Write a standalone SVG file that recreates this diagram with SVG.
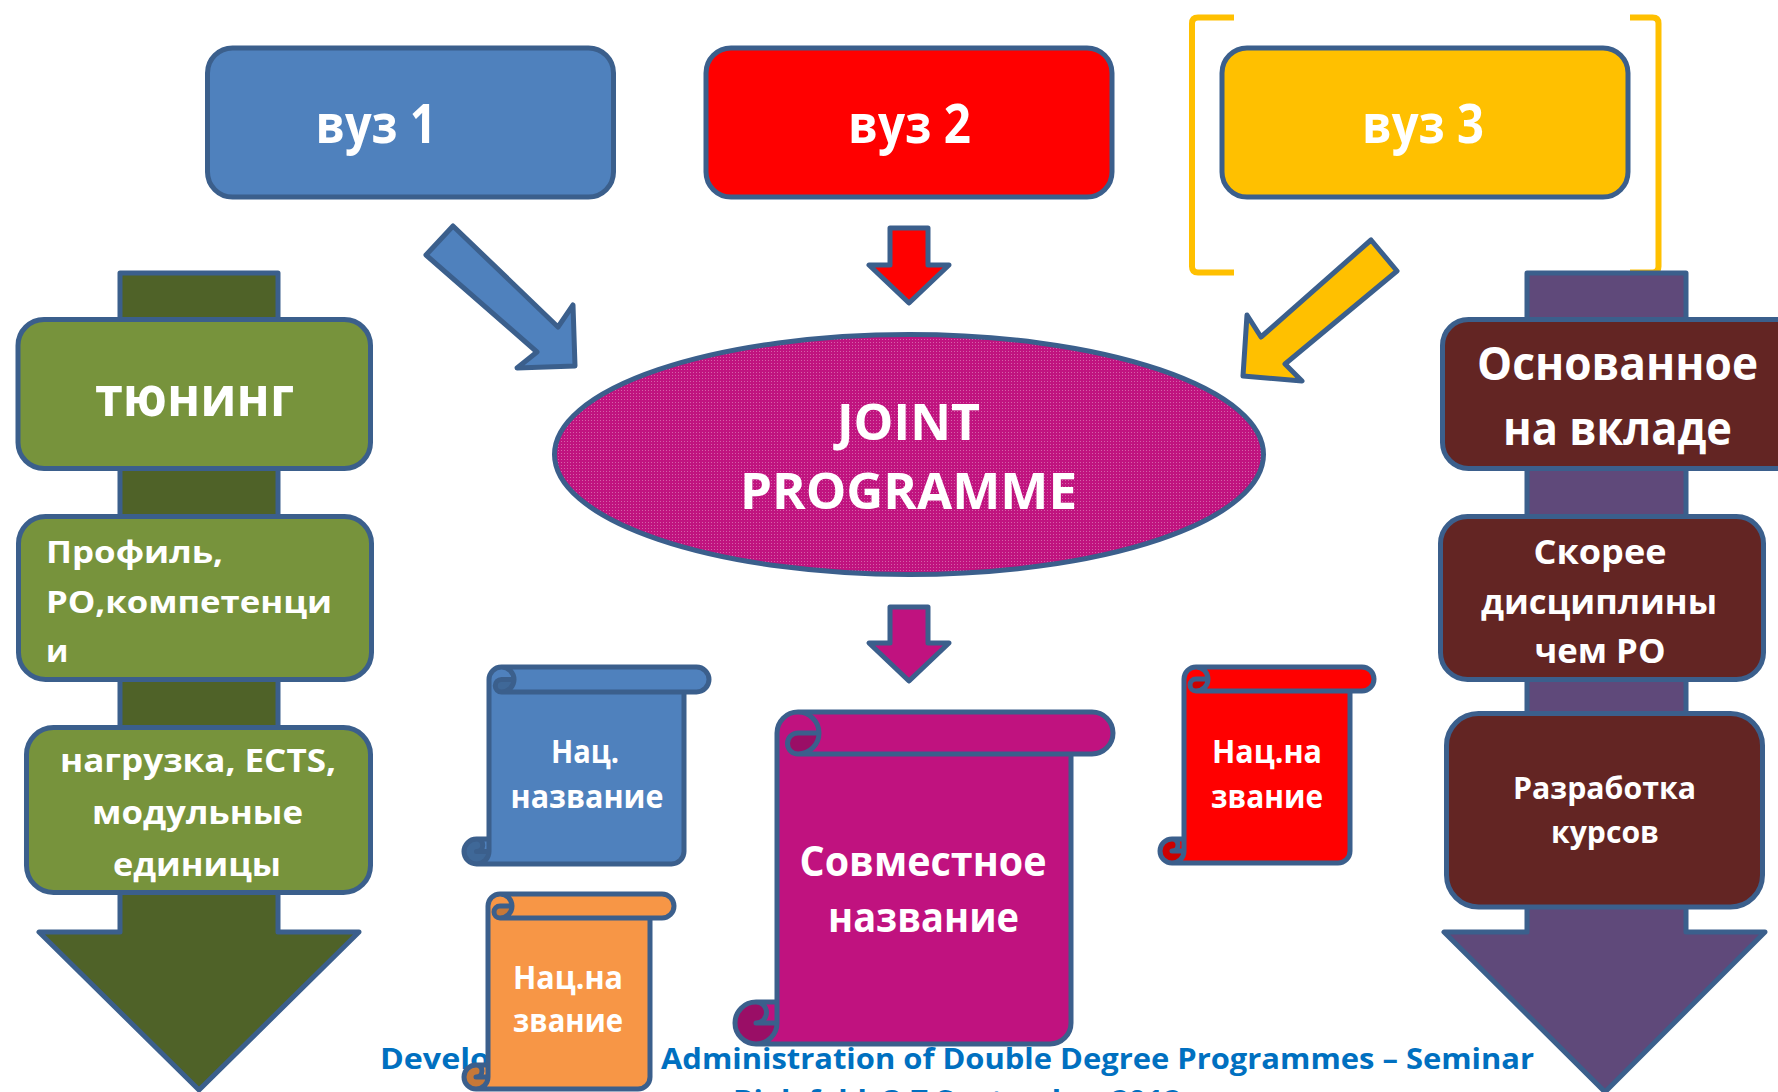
<svg xmlns="http://www.w3.org/2000/svg" width="1778" height="1092" viewBox="0 0 1778 1092">
<style>
.bx{stroke:#3B5F8C;stroke-width:5;stroke-linejoin:round}
.ln{fill:none;stroke:#3B5F8C;stroke-width:5;stroke-linejoin:round}
.t{font-family:"Open Sans","Noto Sans","DejaVu Sans",sans-serif;font-weight:700;fill:#FFFFFF}
.c{text-anchor:middle}
.ft{font-family:"Open Sans","Noto Sans","DejaVu Sans",sans-serif;font-weight:700;fill:#0070C0}
.br{fill:none;stroke:#FFC000;stroke-width:6}
</style>
<defs>
<pattern id="dots" width="3" height="3" patternUnits="userSpaceOnUse">
<rect width="3" height="3" fill="#C0137F"/>
<rect width="1" height="1" fill="#D561A8"/>
</pattern>
</defs>
<rect width="1778" height="1092" fill="#FFFFFF"/>

<!-- footer text (behind scrolls) -->
<g id="footer">
<text class="ft" x="380" y="1069" font-size="28" textLength="110" lengthAdjust="spacingAndGlyphs">Develo</text>
<text class="ft" x="661" y="1069" font-size="28" textLength="873" lengthAdjust="spacingAndGlyphs">Administration of Double Degree Programmes – Seminar</text>
<text class="ft c" x="957" y="1111" font-size="28" textLength="448" lengthAdjust="spacingAndGlyphs">Bielefeld, 3-7 September 2012</text>
</g>

<!-- bracket around vuz 3 -->
<g id="bracket">
<path class="br" d="M1234,17.5 L1198,17.5 Q1192,17.5 1192,23.5 L1192,266.5 Q1192,272.5 1198,272.5 L1234,272.5"/>
<path class="br" d="M1630,17.5 L1652.5,17.5 Q1658.5,17.5 1658.5,23.5 L1658.5,266.5 Q1658.5,272.5 1652.5,272.5 L1630,272.5"/>
</g>

<!-- left column -->
<g id="left-column">
<polygon class="bx" fill="#4F6228" points="120,273 278,273 278,932 359,932 199,1090 39,932 120,932"/>
<g id="tuning">
<rect class="bx" x="18" y="319.5" width="352.5" height="149" rx="26" fill="#77933C"/>
<text class="t c" x="194.5" y="416" font-size="56" textLength="199" lengthAdjust="spacingAndGlyphs">тюнинг</text>
</g>
<g id="profile">
<rect class="bx" x="18.5" y="516.5" width="353" height="163" rx="27" fill="#77933C"/>
<text class="t" x="46" y="563" font-size="31" textLength="177" lengthAdjust="spacingAndGlyphs">Профиль,</text>
<text class="t" x="46" y="613" font-size="31" textLength="286" lengthAdjust="spacingAndGlyphs">РО,компетенци</text>
<text class="t" x="46" y="662" font-size="31">и</text>
</g>
<g id="workload">
<rect class="bx" x="26.5" y="727.5" width="344" height="165" rx="27" fill="#77933C"/>
<text class="t c" x="198" y="772" font-size="33" textLength="276" lengthAdjust="spacingAndGlyphs">нагрузка, ECTS,</text>
<text class="t c" x="197.5" y="824" font-size="33" textLength="211" lengthAdjust="spacingAndGlyphs">модульные</text>
<text class="t c" x="197" y="876" font-size="33" textLength="168" lengthAdjust="spacingAndGlyphs">единицы</text>
</g>
</g>

<!-- right column -->
<g id="right-column">
<polygon class="bx" fill="#5F497A" points="1527,273 1686,273 1686,932 1765,932 1605,1092 1444,932 1527,932"/>
<g id="contribution">
<rect class="bx" x="1442.5" y="319.5" width="360" height="149" rx="26" fill="#632523"/>
<text class="t c" x="1617.5" y="380" font-size="46" textLength="281" lengthAdjust="spacingAndGlyphs">Основанное</text>
<text class="t c" x="1617.5" y="445" font-size="46" textLength="229" lengthAdjust="spacingAndGlyphs">на вкладе</text>
</g>
<g id="disciplines">
<rect class="bx" x="1440.5" y="516.5" width="323" height="163" rx="27" fill="#632523"/>
<text class="t c" x="1600" y="564" font-size="34.5" textLength="133" lengthAdjust="spacingAndGlyphs">Скорее</text>
<text class="t c" x="1599" y="614" font-size="34.5" textLength="236" lengthAdjust="spacingAndGlyphs">дисциплины</text>
<text class="t c" x="1600" y="663" font-size="34.5" textLength="131" lengthAdjust="spacingAndGlyphs">чем РО</text>
</g>
<g id="courses">
<rect class="bx" x="1446.5" y="713.5" width="316" height="193.5" rx="32" fill="#632523"/>
<text class="t c" x="1604.5" y="799" font-size="31" textLength="183" lengthAdjust="spacingAndGlyphs">Разработка</text>
<text class="t c" x="1605" y="843" font-size="31" textLength="108" lengthAdjust="spacingAndGlyphs">курсов</text>
</g>
</g>

<!-- universities -->
<g id="vuz1">
<rect class="bx" x="207.5" y="48" width="406" height="149" rx="25" fill="#4F81BD"/>
<text class="t c" x="376" y="143" font-size="53" textLength="121" lengthAdjust="spacingAndGlyphs">вуз 1</text>
</g>
<g id="vuz2">
<rect class="bx" x="706" y="48" width="406" height="149" rx="25" fill="#FF0000"/>
<text class="t c" x="909.5" y="143" font-size="53" textLength="123" lengthAdjust="spacingAndGlyphs">вуз 2</text>
</g>
<g id="vuz3">
<rect class="bx" x="1222" y="48" width="406" height="149" rx="25" fill="#FFC000"/>
<text class="t c" x="1423" y="143" font-size="53" textLength="122" lengthAdjust="spacingAndGlyphs">вуз 3</text>
</g>

<!-- joint programme -->
<g id="joint-programme">
<ellipse class="bx" cx="909" cy="454.5" rx="354.5" ry="120" fill="url(#dots)"/>
<text class="t c" x="908.5" y="440" font-size="50" textLength="143" lengthAdjust="spacingAndGlyphs">JOINT</text>
<text class="t c" x="908.5" y="509" font-size="50" textLength="337" lengthAdjust="spacingAndGlyphs">PROGRAMME</text>
</g>

<!-- connectors -->
<g id="connectors">
<polygon class="bx" fill="#4F81BD" points="453,226 558,327 573,305 575,366 517,368 537,352 426,255"/>
<polygon class="bx" fill="#FF0000" points="890,228 928,228 928,265 949,265 909,303 869,265 890,265"/>
<polygon class="bx" fill="#FFC000" points="1371,240 1397,271 1285,364 1302,381 1243,376 1247,315 1261,337"/>
<polygon class="bx" fill="#C0127F" points="890,607 928,607 928,643 949,643 909,681 869,643 890,643"/>
</g>

<!-- scrolls -->
<g id="scroll-blue">
<g transform="translate(464,667)">
<path fill="#4F81BD" d="M25,172 L25,12.5 A12.5,12.5 0 0 1 37.5,0 L232.5,0 A12.5,12.5 0 0 1 232.5,25 L220,25 L220,184.5 A12.5,12.5 0 0 1 207.5,197 L12.5,197 A12.5,12.5 0 0 1 12.5,172 Z"/>
<path fill="#3F6898" d="M50,12.5 A12.5,12.5 0 0 1 37.5,25 A6.25,6.25 0 0 1 37.5,12.5 Z M25,184.5 A12.5,12.5 0 1 1 12.5,172 A6.25,6.25 0 0 1 12.5,184.5 Z"/>
<path class="ln" d="M25,172 L25,12.5 A12.5,12.5 0 0 1 37.5,0 L232.5,0 A12.5,12.5 0 0 1 232.5,25 L220,25 L220,184.5 A12.5,12.5 0 0 1 207.5,197 L12.5,197 A12.5,12.5 0 0 1 12.5,172 Z M37.5,0 A12.5,12.5 0 0 1 37.5,25 A6.25,6.25 0 0 1 37.5,12.5 L50,12.5 M220,25 L37.5,25 M12.5,172 A6.25,6.25 0 0 1 12.5,184.5 L25,184.5 M12.5,197 A12.5,12.5 0 0 0 25,184.5 L25,172"/>
</g>
<text class="t c" x="585" y="763" font-size="33" textLength="68" lengthAdjust="spacingAndGlyphs">Нац.</text>
<text class="t c" x="587" y="808" font-size="33" textLength="153" lengthAdjust="spacingAndGlyphs">название</text>
</g>

<g id="scroll-red">
<g transform="translate(1160,667)">
<path fill="#FF0000" d="M24,172 L24,12 A12,12 0 0 1 36,0 L202,0 A12,12 0 0 1 202,24 L190,24 L190,184 A12,12 0 0 1 178,196 L12,196 A12,12 0 0 1 12,172 Z"/>
<path fill="#CC0000" d="M48,12 A12,12 0 0 1 36,24 A6,6 0 0 1 36,12 Z M24,184 A12,12 0 1 1 12,172 A6,6 0 0 1 12,184 Z"/>
<path class="ln" d="M24,172 L24,12 A12,12 0 0 1 36,0 L202,0 A12,12 0 0 1 202,24 L190,24 L190,184 A12,12 0 0 1 178,196 L12,196 A12,12 0 0 1 12,172 Z M36,0 A12,12 0 0 1 36,24 A6,6 0 0 1 36,12 L48,12 M190,24 L36,24 M12,172 A6,6 0 0 1 12,184 L24,184 M12,196 A12,12 0 0 0 24,184 L24,172"/>
</g>
<text class="t c" x="1267" y="763" font-size="33" textLength="110" lengthAdjust="spacingAndGlyphs">Нац.на</text>
<text class="t c" x="1267" y="808" font-size="33" textLength="112" lengthAdjust="spacingAndGlyphs">звание</text>
</g>

<g id="scroll-orange">
<g transform="translate(464,894)">
<path fill="#F79646" d="M24,171 L24,12 A12,12 0 0 1 36,0 L198,0 A12,12 0 0 1 198,24 L186,24 L186,183 A12,12 0 0 1 174,195 L12,195 A12,12 0 0 1 12,171 Z"/>
<path fill="#C67838" d="M48,12 A12,12 0 0 1 36,24 A6,6 0 0 1 36,12 Z M24,183 A12,12 0 1 1 12,171 A6,6 0 0 1 12,183 Z"/>
<path class="ln" d="M24,171 L24,12 A12,12 0 0 1 36,0 L198,0 A12,12 0 0 1 198,24 L186,24 L186,183 A12,12 0 0 1 174,195 L12,195 A12,12 0 0 1 12,171 Z M36,0 A12,12 0 0 1 36,24 A6,6 0 0 1 36,12 L48,12 M186,24 L36,24 M12,171 A6,6 0 0 1 12,183 L24,183 M12,195 A12,12 0 0 0 24,183 L24,171"/>
</g>
<text class="t c" x="568" y="989" font-size="33" textLength="110" lengthAdjust="spacingAndGlyphs">Нац.на</text>
<text class="t c" x="568" y="1032" font-size="33" textLength="110" lengthAdjust="spacingAndGlyphs">звание</text>
</g>

<g id="scroll-joint">
<g transform="translate(735,712)">
<path fill="#C0127F" d="M42,290 L42,21 A21,21 0 0 1 63,0 L357,0 A21,21 0 0 1 357,42 L336,42 L336,311 A21,21 0 0 1 315,332 L21,332 A21,21 0 0 1 21,290 Z"/>
<path fill="#9A0E66" d="M84,21 A21,21 0 0 1 63,42 A10.5,10.5 0 0 1 63,21 Z M42,311 A21,21 0 1 1 21,290 A10.5,10.5 0 0 1 21,311 Z"/>
<path class="ln" d="M42,290 L42,21 A21,21 0 0 1 63,0 L357,0 A21,21 0 0 1 357,42 L336,42 L336,311 A21,21 0 0 1 315,332 L21,332 A21,21 0 0 1 21,290 Z M63,0 A21,21 0 0 1 63,42 A10.5,10.5 0 0 1 63,21 L84,21 M336,42 L63,42 M21,290 A10.5,10.5 0 0 1 21,311 L42,311 M21,332 A21,21 0 0 0 42,311 L42,290"/>
</g>
<text class="t c" x="923" y="876" font-size="41" textLength="247" lengthAdjust="spacingAndGlyphs">Совместное</text>
<text class="t c" x="923.5" y="932" font-size="41" textLength="191" lengthAdjust="spacingAndGlyphs">название</text>
</g>
</svg>
